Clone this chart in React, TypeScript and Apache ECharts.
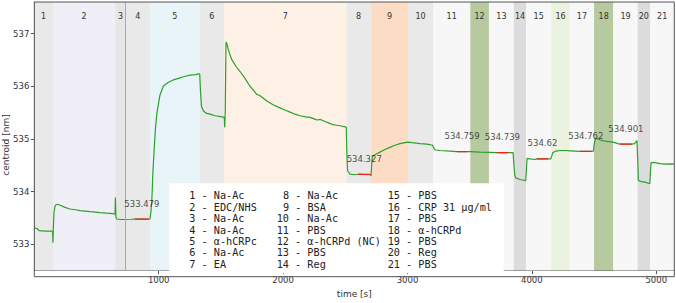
import React, { useEffect, useRef } from "react";
import * as echarts from "echarts";

// ---- data ----
const stepNames = [
  "Na-Ac", "EDC/NHS", "Na-Ac", "Na-Ac", "α-hCRPc", "Na-Ac", "EA",
  "Na-Ac", "BSA", "Na-Ac", "PBS", "α-hCRPd (NC)", "PBS", "Reg",
  "PBS", "CRP 31 μg/ml", "PBS", "α-hCRPd", "PBS", "Reg", "PBS",
];
const bandEdges = [0, 150, 650, 735, 930, 1330, 1525, 2510, 2705, 3005, 3205, 3505, 3655, 3855, 3955, 4155, 4305, 4500, 4655, 4850, 4950, 5145];
const bandColors = [
  "#e9e9e9", "#f0eef6", "#e6e6e6", "#e9e9e9", "#e9f4f8", "#e9e9e9", "#fdf1e6",
  "#e9e9e9", "#fcdcc4", "#e9e9e9", "#f7f7f7", "#b6c99f", "#f7f7f7", "#dcdcdc",
  "#f7f7f7", "#ecf2e0", "#f7f7f7", "#b6c99f", "#f7f7f7", "#dcdcdc", "#f7f7f7",
];
const markerTime = 735;

const trace: [number, number][] = [
  [0, 533.31], [22, 533.3], [38, 533.26], [86, 533.25], [142, 533.25], [147, 533.24], [150, 533.03], [153, 533.3],
  [158, 533.6], [166, 533.72], [175, 533.75], [187, 533.76], [207, 533.74], [247, 533.7], [287, 533.67], [330, 533.655],
  [367, 533.64], [410, 533.63], [448, 533.62], [490, 533.61], [528, 533.6], [580, 533.59], [633, 533.58], [649, 533.57],
  [652, 533.89], [656, 533.52], [662, 533.48], [700, 533.47], [729, 533.47], [780, 533.475], [810, 533.48], [860, 533.478],
  [920, 533.475], [930, 533.48], [938, 533.62], [946, 533.9], [954, 534.4], [965, 534.85], [974, 535.2], [986, 535.5],
  [997, 535.65], [1010, 535.83], [1037, 536.0], [1075, 536.07], [1117, 536.12], [1160, 536.15], [1198, 536.18], [1252, 536.21],
  [1300, 536.22], [1324, 536.24], [1330, 536.23], [1336, 535.9], [1344, 535.62], [1360, 535.53], [1380, 535.49], [1412, 535.47],
  [1453, 535.44], [1509, 535.42], [1527, 535.41], [1531, 535.22], [1535, 535.5], [1541, 536.84], [1547, 536.82], [1557, 536.72],
  [1573, 536.6], [1589, 536.5], [1621, 536.38], [1654, 536.28], [1694, 536.15], [1734, 536.0], [1760, 535.93], [1790, 535.84],
  [1810, 535.83], [1830, 535.79], [1870, 535.72], [1919, 535.65], [1975, 535.59], [2015, 535.55], [2056, 535.51], [2096, 535.47],
  [2136, 535.44], [2180, 535.42], [2217, 535.41], [2250, 535.38], [2273, 535.36], [2300, 535.37], [2337, 535.33], [2370, 535.3],
  [2401, 535.27], [2430, 535.26], [2458, 535.25], [2498, 535.23], [2508, 535.22], [2512, 534.8], [2518, 534.4], [2538, 534.33],
  [2578, 534.32], [2605, 534.33], [2660, 534.325], [2700, 534.32], [2707, 534.3], [2712, 534.5], [2718, 534.66], [2739, 534.7],
  [2779, 534.75], [2819, 534.8], [2859, 534.84], [2899, 534.88], [2940, 534.91], [2980, 534.93], [3004, 534.94], [3036, 534.93],
  [3070, 534.92], [3100, 534.91], [3157, 534.9], [3202, 534.88], [3212, 534.82], [3225, 534.79], [3261, 534.78], [3341, 534.77],
  [3398, 534.76], [3480, 534.76], [3503, 534.76], [3583, 534.75], [3663, 534.745], [3717, 534.74], [3810, 534.74], [3849, 534.74],
  [3856, 534.5], [3863, 534.3], [3872, 534.26], [3904, 534.23], [3950, 534.21], [3956, 534.4], [3961, 534.63], [3985, 534.62],
  [4025, 534.61], [4040, 534.62], [4130, 534.62], [4150, 534.62], [4158, 534.66], [4168, 534.74], [4194, 534.77], [4230, 534.78],
  [4266, 534.78], [4310, 534.775], [4347, 534.77], [4387, 534.762], [4481, 534.762], [4495, 534.77], [4502, 534.92], [4512, 535.0],
  [4521, 535.01], [4548, 534.98], [4588, 534.96], [4620, 534.95], [4652, 534.94], [4692, 534.91], [4709, 534.9], [4803, 534.9],
  [4825, 534.91], [4845, 534.97], [4851, 534.6], [4856, 534.21], [4880, 534.19], [4909, 534.18], [4948, 534.15], [4954, 534.4],
  [4958, 534.55], [4990, 534.55], [5030, 534.53], [5070, 534.52], [5110, 534.525], [5145, 534.52],
];

const segStart = [810, 2605, 3398, 3717, 4040, 4387, 4709];
const segEnd = [920, 2700, 3480, 3810, 4130, 4481, 4803];
const segValue = [533.479, 534.327, 534.759, 534.739, 534.62, 534.762, 534.901];

const xTicks = [1000, 2000, 3000, 4000, 5000];
const yTicks = [533, 534, 535, 536, 537];

// ---- layout ----
const W = 676;
const H = 303;
const G = { left: 34.3, right: 1.7, top: 2, bottom: 26.3 };
const SANS = "DejaVu Sans";
const MONO = "DejaVu Sans Mono";

export default function App() {
  const ref = useRef<HTMLDivElement>(null);

  useEffect(() => {
    if (!ref.current) return;
    const chart = echarts.init(ref.current, null, { renderer: "svg" });

    const bands = bandColors.map((c, i) => [
      { xAxis: bandEdges[i], name: String(i + 1), itemStyle: { color: c, opacity: 1 } },
      { xAxis: bandEdges[i + 1] },
    ]);

    const redSeries = segStart.map((s, i) => ({
      type: "line",
      data: [[s, segValue[i]], [segEnd[i], segValue[i]]],
      symbol: "none",
      silent: true,
      z: 4,
      lineStyle: { color: "#ff1a1a", width: 1.3 },
    }));

    // legend box text
    const charW = 6.2;
    const colX = [183.1, 276.7, 387.7];
    const rowY0 = 195.8;
    const rowH = 11.4;
    const legendTexts: any[] = [];
    stepNames.forEach((n, i) => {
      const col = Math.floor(i / 7);
      const row = i % 7;
      const num = i + 1;
      legendTexts.push({
        type: "text",
        x: colX[col] + (num < 10 ? charW : 0),
        y: rowY0 + row * rowH,
        z: 20,
        style: {
          text: `${num} - ${n}`,
          font: `10.2px "${MONO}"`,
          fill: "#222",
          textAlign: "left",
          textVerticalAlign: "middle",
        },
      });
    });

    const plotW = W - G.left - G.right;
    const plotH = H - G.top - G.bottom;

    chart.setOption({
      animation: false,
      grid: { left: G.left, right: G.right, top: G.top, bottom: G.bottom },
      xAxis: {
        type: "value",
        min: bandEdges[0],
        max: bandEdges[bandEdges.length - 1],
        axisLine: { show: true, lineStyle: { color: "#555", width: 1 } },
        axisTick: { show: true, customValues: xTicks, length: 3.5, lineStyle: { color: "#555" } },
        axisLabel: {
          customValues: xTicks,
          formatter: (v: number) => String(v),
          color: "#333",
          fontSize: 8.5,
          fontFamily: SANS,
          margin: 4.5,
        },
        splitLine: { show: false },
        name: "time [s]",
        nameLocation: "middle",
        nameGap: 15,
        nameTextStyle: { color: "#333", fontSize: 9, fontFamily: SANS, verticalAlign: "top" },
      },
      yAxis: {
        type: "value",
        min: 532.5,
        max: 537.6,
        axisLine: { show: true, lineStyle: { color: "#555", width: 1 } },
        axisTick: { show: true, customValues: yTicks, length: 3.5, lineStyle: { color: "#555" } },
        axisLabel: {
          customValues: yTicks,
          formatter: (v: number) => String(v),
          color: "#333",
          fontSize: 8.5,
          fontFamily: SANS,
          margin: 5,
        },
        splitLine: { show: false },
      },
      series: [
        {
          type: "line",
          data: trace,
          symbol: "none",
          z: 3,
          lineStyle: { color: "#2ca02c", width: 1.2 },
          markArea: {
            silent: true,
            label: { show: true, position: "insideTop", distance: 10, color: "#333", fontSize: 8, fontFamily: SANS },
            data: bands,
          },
          markLine: {
            silent: true,
            symbol: "none",
            label: { show: false },
            lineStyle: { color: "#aaaaaa", width: 1, type: "solid" },
            data: [{ xAxis: markerTime }],
          },
        },
        ...redSeries,
        {
          type: "scatter",
          data: segStart.map((s, i) => [(s + segEnd[i]) / 2, segValue[i]]),
          symbolSize: 0,
          silent: true,
          z: 5,
          label: {
            show: true,
            position: "inside",
            offset: [0, -15.5],
            formatter: (p: any) => String(p.value[1]),
            color: "#222",
            fontSize: 8.5,
            fontFamily: SANS,
          },
        },
      ],
      graphic: [
        {
          type: "rect",
          z: 15,
          shape: { x: 169.3, y: 183.3, width: 334.4, height: 90 },
          style: { fill: "#ffffff" },
        },
        ...legendTexts,
        {
          type: "rect",
          z: 30,
          silent: true,
          shape: { x: G.left, y: G.top, width: plotW, height: plotH },
          style: { fill: "none", stroke: "#555", lineWidth: 1 },
        },
        {
          type: "text",
          x: 6,
          y: 145,
          rotation: Math.PI / 2,
          style: {
            text: "centroid [nm]",
            font: `9px "${SANS}"`,
            fill: "#333",
            textAlign: "center",
            textVerticalAlign: "middle",
          },
        },
      ],
    });

    return () => chart.dispose();
  }, []);

  return (
    <div
      ref={ref}
      style={{ position: "fixed", left: 0, top: 0, width: W, height: H, background: "#fff" }}
    />
  );
}
